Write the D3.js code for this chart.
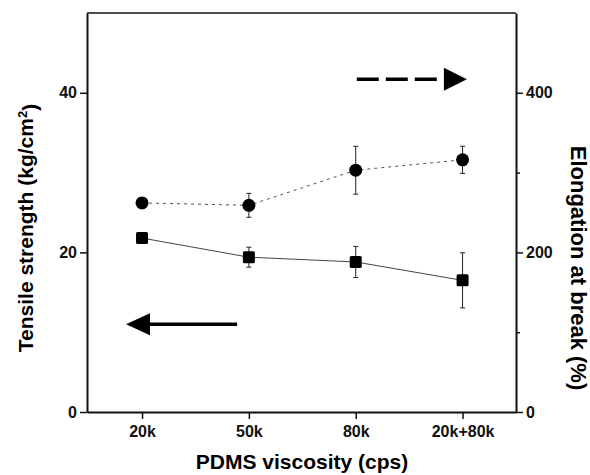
<!DOCTYPE html>
<html>
<head>
<meta charset="utf-8">
<script src="https://cdn.jsdelivr.net/npm/d3@7"></script>
<style>
  body { margin: 0; background: #fff; }
  text { font-family: "Liberation Sans", Arial, sans-serif; font-weight: bold; }
</style>
</head>
<body>
<div id="chart"></div>
<script>
// categories on the x axis
var viscosity = ["20k", "50k", "80k", "20k+80k"];

// tensile strength (kg/cm2), left axis, squares + solid line
var tensile = [21.8, 19.4, 18.8, 16.5];
var tensileErr = [0.4, 1.25, 1.95, 3.45];

// elongation at break (%), right axis, circles + dotted line
var elongation = [262, 259, 303, 316];
var elongationErr = [4, 15, 30, 17];

// tick values
var leftTicks = [0, 20, 40];
var rightTicks = [0, 200, 400];
var rightMinor = [100, 300];

// direction arrows (x in category index units, y in axis units)
var arrowRight = {x0: 3.01, x1: 4.04, y: 417};
var arrowLeft = {x0: 0.85, x1: 1.89, y: 11};

var margin = {top: 13, right: 74, bottom: 63, left: 87},
    width = 590 - margin.left - margin.right,
    height = 475 - margin.top - margin.bottom;

var x = d3.scaleLinear().domain([0.485, 4.5]).range([0, width]);
var yL = d3.scaleLinear().domain([0, 50]).range([height, 0]);
var yR = d3.scaleLinear().domain([0, 500]).range([height, 0]);

var svg = d3.select("#chart").append("svg")
    .attr("width", 590)
    .attr("height", 475)
  .append("g")
    .attr("transform", "translate(" + margin.left + "," + margin.top + ")");

// top border
svg.append("line")
    .attr("x1", 0).attr("x2", width)
    .attr("y1", 0).attr("y2", 0)
    .style("stroke", "#111")
    .style("stroke-width", 1.5);

// axes
svg.append("g")
    .attr("transform", "translate(0," + height + ")")
    .call(d3.axisBottom(x)
      .tickValues([1, 2, 3, 4])
      .tickFormat(function(d) { return viscosity[d - 1]; })
      .tickSize(7).tickPadding(7).tickSizeOuter(0));

svg.append("g")
    .call(d3.axisLeft(yL).tickValues(leftTicks).tickSize(7).tickPadding(3).tickSizeOuter(0));

svg.append("g")
    .attr("transform", "translate(" + width + ",0)")
    .call(d3.axisRight(yR).tickValues(rightTicks).tickSize(7).tickPadding(3).tickSizeOuter(0));

svg.append("g")
    .attr("transform", "translate(" + width + ",0)")
    .call(d3.axisRight(yR).tickValues(rightMinor).tickSize(4).tickFormat(""))
    .select(".domain").remove();

svg.selectAll(".domain").style("stroke", "#111").style("stroke-width", 2);
svg.selectAll(".tick line").style("stroke", "#111").style("stroke-width", 1.5);
svg.selectAll(".tick text")
    .style("font-size", "16px")
    .style("font-weight", "bold")
    .style("fill", "#111");

// lines
var lineT = d3.line()
    .x(function(d, i) { return x(i + 1); })
    .y(function(d) { return yL(d); });

var lineE = d3.line()
    .x(function(d, i) { return x(i + 1); })
    .y(function(d) { return yR(d); });

svg.append("path")
    .datum(tensile)
    .attr("d", lineT)
    .style("fill", "none")
    .style("stroke", "#444")
    .style("stroke-width", 1);

svg.append("path")
    .datum(elongation)
    .attr("d", lineE)
    .style("fill", "none")
    .style("stroke", "#555")
    .style("stroke-width", 1)
    .style("stroke-dasharray", "3,4");

// error bars
function errorBars(vals, errs, y) {
  var g = svg.append("g");
  vals.forEach(function(v, i) {
    var cx = x(i + 1);
    g.append("line")
        .attr("x1", cx).attr("x2", cx)
        .attr("y1", y(v - errs[i])).attr("y2", y(v + errs[i]))
        .style("stroke", "#222").style("stroke-width", 1);
    [v - errs[i], v + errs[i]].forEach(function(e) {
      g.append("line")
          .attr("x1", cx - 2.5).attr("x2", cx + 2.5)
          .attr("y1", y(e)).attr("y2", y(e))
          .style("stroke", "#222").style("stroke-width", 1);
    });
  });
}
errorBars(tensile, tensileErr, yL);
errorBars(elongation, elongationErr, yR);

// markers
svg.selectAll(".sq")
    .data(tensile)
  .enter().append("rect")
    .attr("class", "sq")
    .attr("x", function(d, i) { return x(i + 1) - 6; })
    .attr("y", function(d) { return yL(d) - 6; })
    .attr("width", 12)
    .attr("height", 12)
    .attr("rx", 1.5)
    .style("fill", "#000");

svg.selectAll(".dot")
    .data(elongation)
  .enter().append("circle")
    .attr("class", "dot")
    .attr("cx", function(d, i) { return x(i + 1); })
    .attr("cy", function(d) { return yR(d); })
    .attr("r", 6.5)
    .style("fill", "#000");

// arrows
svg.append("line")
    .attr("x1", x(arrowRight.x0))
    .attr("x2", x(arrowRight.x1) - 26)
    .attr("y1", yR(arrowRight.y)).attr("y2", yR(arrowRight.y))
    .style("stroke", "#000")
    .style("stroke-width", 3.5)
    .style("stroke-dasharray", "22,7");

svg.append("path")
    .attr("d", "M" + x(arrowRight.x1) + "," + yR(arrowRight.y) +
               "L" + (x(arrowRight.x1) - 23) + "," + (yR(arrowRight.y) - 11.5) +
               "L" + (x(arrowRight.x1) - 23) + "," + (yR(arrowRight.y) + 11.5) + "Z")
    .style("fill", "#000");

svg.append("line")
    .attr("x1", x(arrowLeft.x0) + 20)
    .attr("x2", x(arrowLeft.x1))
    .attr("y1", yL(arrowLeft.y)).attr("y2", yL(arrowLeft.y))
    .style("stroke", "#000")
    .style("stroke-width", 3.5);

svg.append("path")
    .attr("d", "M" + x(arrowLeft.x0) + "," + yL(arrowLeft.y) +
               "L" + (x(arrowLeft.x0) + 24) + "," + (yL(arrowLeft.y) - 11) +
               "L" + (x(arrowLeft.x0) + 24) + "," + (yL(arrowLeft.y) + 11) + "Z")
    .style("fill", "#000");

// axis titles
svg.append("text")
    .attr("x", 215)
    .attr("y", 456)
    .attr("text-anchor", "middle")
    .style("font-size", "21px")
    .style("fill", "#000")
    .text("PDMS viscosity (cps)");

var lt = svg.append("text")
    .attr("transform", "translate(" + (33 - margin.left) + "," + 215 + ") rotate(-90)")
    .attr("text-anchor", "middle")
    .style("font-size", "21px")
    .style("fill", "#000");
lt.append("tspan").text("Tensile strength (kg/cm");
lt.append("tspan").attr("dy", "-0.45em").style("font-size", "13px").text("2");
lt.append("tspan").attr("dy", "0.45em").text(")");

svg.append("text")
    .attr("transform", "translate(" + (571 - margin.left) + "," + 255 + ") rotate(90)")
    .attr("text-anchor", "middle")
    .style("font-size", "22px")
    .style("fill", "#000")
    .text("Elongation at break (%)");
</script>
</body>
</html>
